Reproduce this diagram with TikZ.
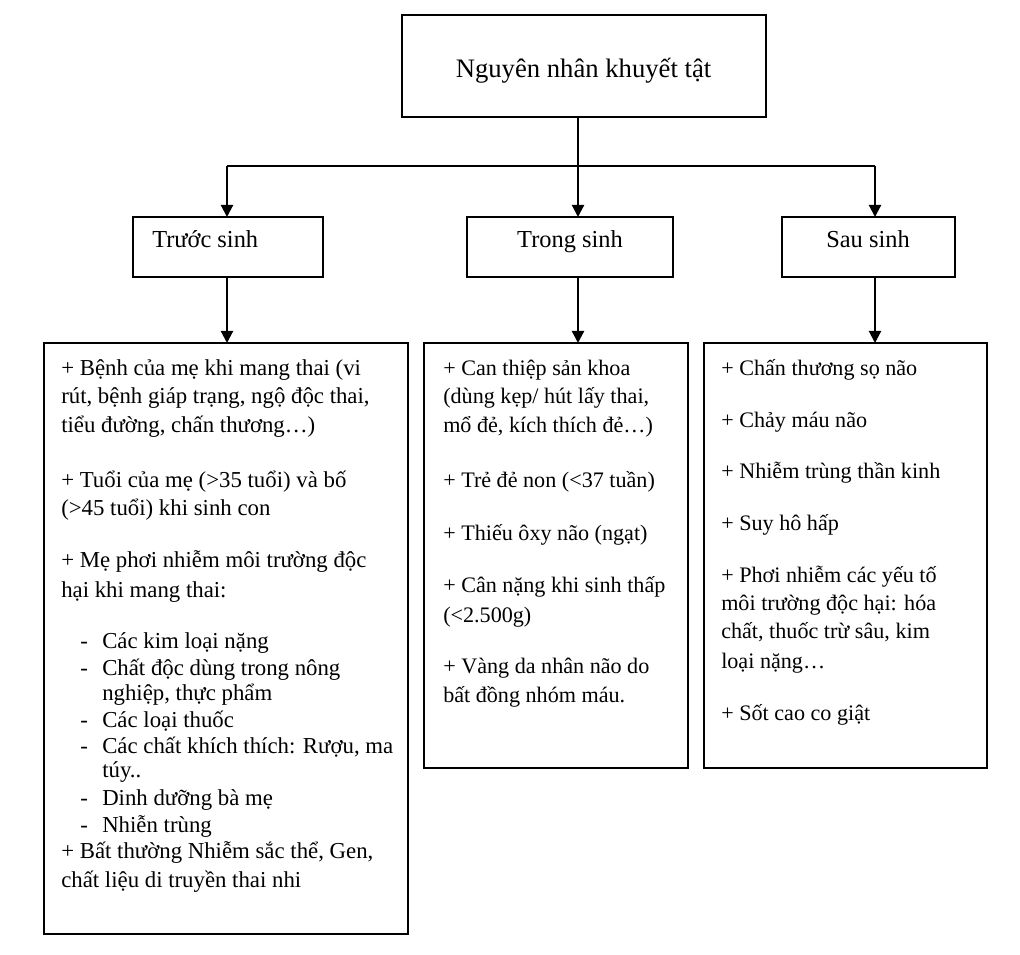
\documentclass[tikz,border=0pt]{standalone}
\usepackage{fontspec}
\setmainfont{Liberation Serif}
\usetikzlibrary{arrows.meta}
\begin{document}
\begin{tikzpicture}[x=0.75pt,y=-0.75pt,
  box/.style={draw=black,line width=1.6pt,rectangle,inner sep=0pt,outer sep=0pt},
  conn/.style={line width=1.6pt},
  arr/.style={line width=1.6pt,-{Triangle[length=9pt,width=9pt]}},
  txt/.style={anchor=base west,inner sep=0pt,font=\fontsize{16.6}{20}\selectfont},
  txtl/.style={anchor=base west,inner sep=0pt,font=\fontsize{17.1}{20}\selectfont},
  hdr/.style={anchor=base,inner sep=0pt,font=\fontsize{18.3}{22}\selectfont},
  ttl/.style={anchor=base,inner sep=0pt,font=\fontsize{20}{24}\selectfont}]
\useasboundingbox (0,0) rectangle (1020,955);
\fill[white] (0,0) rectangle (1020,955);
% boxes
\node[box,minimum width=273pt,minimum height=76.5pt] (top) at (584,66) {};
\node[box,minimum width=142.5pt,minimum height=45pt] (h1) at (228,247) {};
\node[box,minimum width=154.5pt,minimum height=45pt] (h2) at (570,247) {};
\node[box,minimum width=129.75pt,minimum height=45pt] (h3) at (868.5,247) {};
\node[box,minimum width=273pt,minimum height=443.25pt] (b1) at (226,638.5) {};
\node[box,minimum width=198pt,minimum height=318.75pt] (b2) at (556,555.5) {};
\node[box,minimum width=212.25pt,minimum height=318.75pt] (b3) at (845.5,555.5) {};
% titles
\node[ttl] (ttitle) at (583.5,78) {Nguyên nhân khuyết tật};
\node[hdr,anchor=base west] (th1) at (152,248) {Trước sinh};
\node[hdr] (th2) at (570,248) {Trong sinh};
\node[hdr] (th3) at (868,248) {Sau sinh};
% connectors
\coordinate (jl) at (227,166);
\coordinate (jm) at (578,166);
\coordinate (jr) at (875,166);
\draw[conn] (jl) -- (jr);
\draw[conn] (top.south -| jm) -- (jm);
\draw[arr] (jl) -- (jl |- h1.north);
\draw[arr] (jm) -- (jm |- h2.north);
\draw[arr] (jr) -- (jr |- h3.north);
\draw[arr] (h1.south -| jl) -- (jl |- b1.north);
\draw[arr] (h2.south -| jm) -- (jm |- b2.north);
\draw[arr] (h3.south -| jr) -- (jr |- b3.north);
% left box text
\node[txtl] (l1) at (61,375) {+ Bệnh của mẹ khi mang thai (vi};
\node[txtl] (l2) at (61,403) {rút, bệnh giáp trạng, ngộ độc thai,};
\node[txtl] (l3) at (61,432) {tiểu đường, chấn thương…)};
\node[txtl] (l4) at (61,487) {+ Tuổi của mẹ (>35 tuổi) và bố};
\node[txtl] (l5) at (61,515) {(>45 tuổi) khi sinh con};
\node[txtl] (l6) at (61,567) {+ Mẹ phơi nhiễm môi trường độc};
\node[txtl] (l7) at (61,597) {hại khi mang thai:};
\node[txtl] (d1) at (80,648) {-};
\node[txtl] (l8) at (102,648) {Các kim loại nặng};
\node[txtl] (d2) at (80,675) {-};
\node[txtl] (l9) at (102,675) {Chất độc dùng trong nông};
\node[txtl] (l10) at (102,700) {nghiệp, thực phẩm};
\node[txtl] (d3) at (80,727) {-};
\node[txtl] (l11) at (102,727) {Các loại thuốc};
\node[txtl] (d4) at (80,753) {-};
\node[txtl] (l12) at (102,753) {Các chất khích thích: Rượu, ma};
\node[txtl] (l13) at (102,777) {túy..};
\node[txtl] (d5) at (80,805) {-};
\node[txtl] (l14) at (102,805) {Dinh dưỡng bà mẹ};
\node[txtl] (d6) at (80,832) {-};
\node[txtl] (l15) at (102,832) {Nhiễn trùng};
\node[txtl] (l16) at (61,858) {+ Bất thường Nhiễm sắc thể, Gen,};
\node[txtl] (l17) at (61,887) {chất liệu di truyền thai nhi};
% middle box text
\node[txt] (m1) at (443,375) {+ Can thiệp sản khoa};
\node[txt] (m2) at (443,403) {(dùng kẹp/ hút lấy thai,};
\node[txt] (m3) at (443,432) {mổ đẻ, kích thích đẻ…)};
\node[txt] (m4) at (443,487) {+ Trẻ đẻ non (<37 tuần)};
\node[txt] (m5) at (443,540) {+ Thiếu ôxy não (ngạt)};
\node[txt] (m6) at (443,592) {+ Cân nặng khi sinh thấp};
\node[txt] (m7) at (443,622) {(<2.500g)};
\node[txt] (m8) at (443,673) {+ Vàng da nhân não do};
\node[txt] (m9) at (443,702) {bất đồng nhóm máu.};
% right box text
\node[txt] (r1) at (721,375) {+ Chấn thương sọ não};
\node[txt] (r2) at (721,427) {+ Chảy máu não};
\node[txt] (r3) at (721,478) {+ Nhiễm trùng thần kinh};
\node[txt] (r4) at (721,530) {+ Suy hô hấp};
\node[txt] (r5) at (721,582) {+ Phơi nhiễm các yếu tố};
\node[txt] (r6) at (721,610) {môi trường độc hại: hóa};
\node[txt] (r7) at (721,638) {chất, thuốc trừ sâu, kim};
\node[txt] (r8) at (721,668) {loại nặng…};
\node[txt] (r9) at (721,720) {+ Sốt cao co giật};
\end{tikzpicture}
\end{document}
